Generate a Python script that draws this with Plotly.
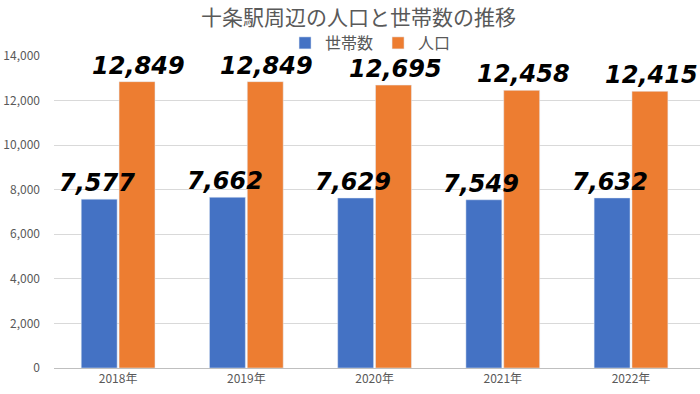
import plotly.graph_objects as go

years = ["2018年", "2019年", "2020年", "2021年", "2022年"]
households = [7577, 7662, 7629, 7549, 7632]
population = [12849, 12849, 12695, 12458, 12415]
tick_vals = [0, 2000, 4000, 6000, 8000, 10000, 12000, 14000]
tick_text = ["0", "2,000", "4,000", "6,000", "8,000", "10,000", "12,000", "14,000"]

label_font = dict(family="DejaVu Sans, Noto Sans, sans-serif", size=24, color="black",
                  weight="bold", style="italic")

fig = go.Figure()
fig.add_trace(go.Bar(x=years, y=households, name="世帯数", marker_color="#4472C4"))
fig.add_trace(go.Bar(x=years, y=population, name="人口", marker_color="#ED7D31"))

# value labels (drawn above all bars)
bar_offset = 19.5  # px from category centre to bar centre
for series, shift in ((households, -bar_offset - 2), (population, bar_offset + 1)):
    for xv, yv in zip(years, series):
        fig.add_annotation(x=xv, y=yv, text=f"{yv:,}", showarrow=False,
                           xanchor="center", yanchor="bottom", xshift=shift, yshift=0,
                           font=label_font)

fig.update_layout(
    width=700, height=394,
    margin=dict(l=54, r=0, t=56, b=26, autoexpand=False),
    paper_bgcolor="white", plot_bgcolor="white",
    font=dict(family="Noto Sans CJK JP, Noto Sans, sans-serif", color="#595959"),
    title=dict(text="十条駅周辺の人口と世帯数の推移", x=0.512, xanchor="center",
               y=1 - 18 / 394, yanchor="middle", yref="container",
               font=dict(size=21, color="#595959")),
    legend=dict(orientation="h", x=0.49, xanchor="center", y=1 - 43 / 394, yanchor="middle",
                yref="container",
                font=dict(size=16, color="#595959"), itemwidth=30,
                tracegroupgap=0, bgcolor="rgba(0,0,0,0)"),
    barmode="group", bargap=0.41, bargroupgap=0.05,
)
fig.update_xaxes(showgrid=False, showline=True, linecolor="#bfbfbf", linewidth=1,
                 tickfont=dict(size=12, color="#595959"), ticks="")
fig.update_yaxes(range=[0, 14000], tickvals=tick_vals, ticktext=tick_text,
                 showgrid=True, gridcolor="#d9d9d9", gridwidth=1,
                 zeroline=False, tickfont=dict(size=12, color="#595959"),
                 ticklabelstandoff=13)

fig.write_html("out.html", config={"displayModeBar": False},
               post_script="document.body.style.margin='0';")
